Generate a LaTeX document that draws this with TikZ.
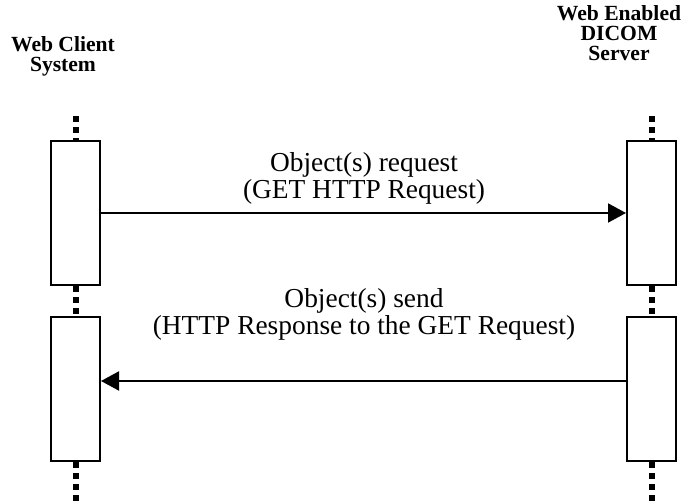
\documentclass[tikz,border=0pt]{standalone}
\usepackage{fontspec}
\setmainfont{Liberation Serif}
\usetikzlibrary{arrows.meta}
\begin{document}
\begin{tikzpicture}[x=0.5pt,y=-0.5pt,
  bar/.style={draw,line width=1pt,fill=white,minimum width=24.5pt,minimum height=72pt,inner sep=0pt},
  life/.style={line width=3pt,dash pattern=on 3pt off 2.5pt},
  msg/.style={line width=1pt,-{Triangle[length=9pt,width=9.5pt]}},
  head/.style={font=\fontsize{10.8}{10}\selectfont\bfseries,align=center},
  lbl/.style={font=\fontsize{13.7}{12}\selectfont,align=center}]
\useasboundingbox (0,0) rectangle (681,501);
% client side
\node[head] (client) at (63,56) {Web Client\\System};
\coordinate (ctop) at (75.5,116);
\coordinate (cbot) at (75.5,501);
\node[bar] (cA1) at (75.5,213) {};
\node[bar] (cA2) at (75.5,389) {};
\draw[life] (ctop) -- (cA1.north) (cA1.south) -- (cA2.north) (cA2.south) -- (cbot);
% server side
\node[head] (server) at (619,33) {Web Enabled\\DICOM\\Server};
\coordinate (stop) at (651.5,116);
\coordinate (sbot) at (651.5,501);
\node[bar] (sA1) at (651.5,213) {};
\node[bar] (sA2) at (651.5,389) {};
\draw[life] (stop) -- (sA1.north) (sA1.south) -- (sA2.north) (sA2.south) -- (sbot);
% messages
\draw[msg] (cA1.east) -- (sA1.west);
\node[lbl] (req) at (364,178) {Object(s) request\\(GET HTTP Request)};
\draw[msg] ([yshift=4pt]sA2.west) -- ([yshift=4pt]cA2.east);
\node[lbl] (resp) at (364,314) {Object(s) send\\(HTTP Response to the GET Request)};
\end{tikzpicture}
\end{document}
